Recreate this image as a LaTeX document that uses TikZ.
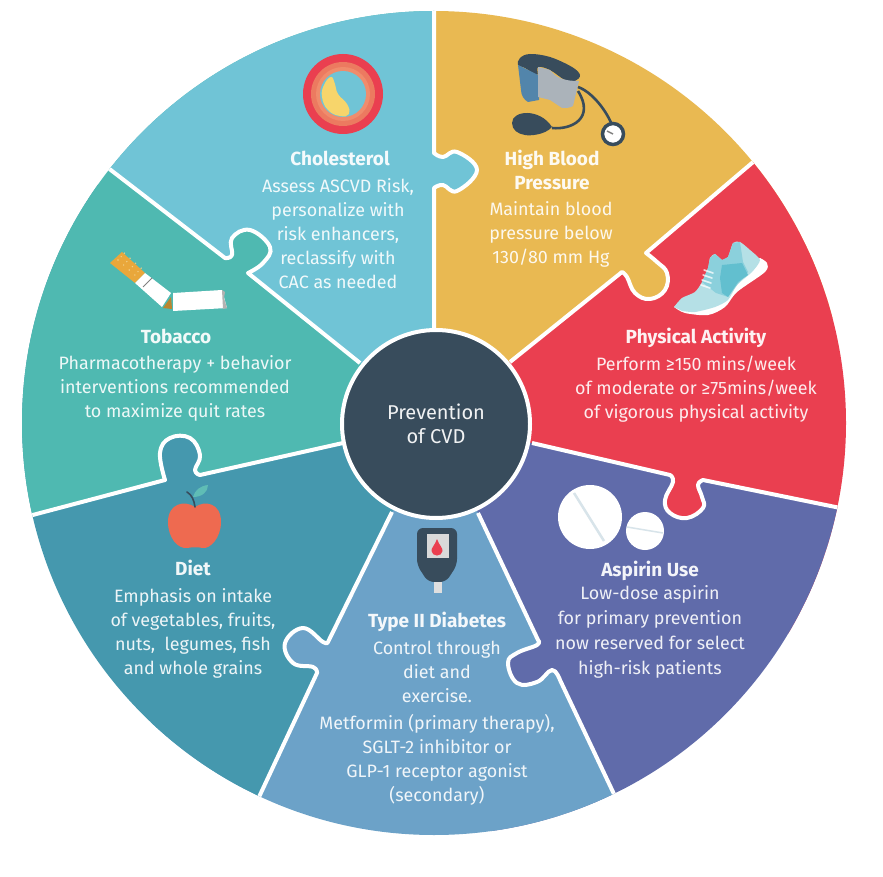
\documentclass[tikz,border=0pt]{standalone}
\usepackage{fontspec}
\setmainfont{Fira Sans}
\usetikzlibrary{calc}
\definecolor{colChol}{HTML}{70C4D6}
\definecolor{colBP}{HTML}{E9B952}
\definecolor{colPhys}{HTML}{EA3F50}
\definecolor{colAsp}{HTML}{606BAA}
\definecolor{colDiab}{HTML}{6CA2C8}
\definecolor{colDiet}{HTML}{4598AE}
\definecolor{colTob}{HTML}{4FB9B1}
\definecolor{colDark}{HTML}{384C5C}
\definecolor{colRingA}{HTML}{EC7A60}
\definecolor{colRingB}{HTML}{F08C6C}
\definecolor{colPlaque}{HTML}{F7D56B}
\definecolor{colCuff}{HTML}{5285AB}
\definecolor{colGrey}{HTML}{ABB3BA}
\definecolor{colApple}{HTML}{EE6A50}
\definecolor{colLeaf}{HTML}{5FBDB5}
\definecolor{colFilter}{HTML}{E9A73B}
\definecolor{colShoeA}{HTML}{B5E0E6}
\definecolor{colShoeB}{HTML}{8BD0DC}
\definecolor{colShoeC}{HTML}{62BFCF}
\definecolor{colGroove}{HTML}{D8E4EA}
\tikzset{
  head/.style={text=white,text opacity=.93,inner sep=0pt,align=center,font=\fontsize{19}{24}\selectfont\bfseries},
  body/.style={text=white,text opacity=.9,inner sep=0pt,align=center,font=\fontsize{17.9}{24}\selectfont},
  seamline/.style={draw=white,line width=4,line join=round}
}
\newcommand\seamA{(434,330) -- plot[smooth,tension=.7] coordinates {(434,188) (443,185) (457,191) (477,170) (457,152) (443,157) (434,153)} -- (434,-5)}
\newcommand\seamAback{(434,-5) -- plot[smooth,tension=.7] coordinates {(434,153) (443,157) (457,152) (477,170) (457,191) (443,185) (434,188)} -- (434,330)}
\newcommand\seamB{(510,362) -- plot[smooth,tension=.7] coordinates {(622,272) (627,277) (635,293) (650,299) (665,290) (667,273) (657,262) (646,253)} -- (772,146)}
\newcommand\seamC{(532,443) -- plot[smooth,tension=.7] coordinates {(670,475) (673,482) (665,500) (670,513) (687,518) (703,508) (702,497) (698,485) (703,480)} -- (860,512)}
\newcommand\seamD{(478,513) -- plot[smooth,tension=.7] coordinates {(538,640) (537,645) (517,653) (508,663) (517,683) (537,682) (552,670) (560,680)} -- (622,811)}
\newcommand\seamE{(392,512) -- plot[smooth,tension=.7] coordinates {(328,642) (323,642) (303,628) (285,643) (293,663) (313,667) (317,673)} -- (252,812)}
\newcommand\seamF{(343,443) -- plot[smooth,tension=.7] coordinates {(200,475) (195,470) (200,455) (190,438) (170,438) (160,453) (165,480)} -- (10,521)}
\newcommand\seamG{(360,363) -- plot[smooth,tension=.7] coordinates {(248,273) (263,263) (270,247) (250,230) (232,238) (232,255) (225,258)} -- (90,154)}
\begin{document}
\begin{tikzpicture}[x=1pt,y=-1pt]
\useasboundingbox (0,0) rectangle (883,877);
\fill[white] (0,0) rectangle (883,877);

\coordinate (O) at (436,424);

\begin{scope}
\clip (434,423) circle (412);
\fill[colBP] (O) -- \seamA -- (900,-20) -- (900,300) -- cycle;
\fill[colPhys] (O) -- \seamB -- (900,100) -- (900,700) -- cycle;
\fill[colAsp] (O) -- \seamC -- (900,900) -- (500,900) -- cycle;
\fill[colDiab] (O) -- \seamD -- (500,900) -- (-20,900) -- cycle;
\fill[colDiet] (O) -- \seamE -- (100,900) -- (-20,900) -- (-20,100) -- cycle;
\fill[colTob] (O) -- \seamF -- (-20,500) -- (-20,-20) -- (434,-20) -- cycle;
\fill[colChol] (O) -- \seamG -- (50,-20) -- \seamAback -- cycle;
\draw[seamline] \seamA;
\draw[seamline] \seamB;
\draw[seamline] \seamC;
\draw[seamline] \seamD;
\draw[seamline] \seamE;
\draw[seamline] \seamF;
\draw[seamline] \seamG;
\end{scope}

\node[circle,fill=colDark,draw=white,line width=4,minimum size=188,inner sep=0pt,text=white,text opacity=.93,align=center,font=\fontsize{20}{24}\selectfont] (centre) at (O) {Prevention\\of CVD};

% cholesterol
\fill[colPhys] (343,94) circle (40);
\fill[colRingA] (343,94) circle (32);
\fill[colRingB] (343,94) circle (27);
\fill[colChol] (343,94) circle (23);
\fill[colPlaque] plot[smooth cycle,tension=.8] coordinates {(331,77) (324,85) (322,97) (328,110) (340,116) (349,114) (347,104) (338,94) (335,84)};

\node[head] (chol title) at (340,158) {Cholesterol};
\node[body] (chol text) at (338,234) {Assess ASCVD Risk,\\personalize with\\risk enhancers,\\reclassify with\\CAC as needed};

% blood pressure
\fill[colDark] plot[smooth cycle,tension=.6] coordinates {(518,65) (520,58) (530,54) (550,57) (572,67) (580,75) (575,81) (565,80) (550,70) (538,67) (537,75) (525,68)};
\fill[colCuff] (518,65) -- (540,76) -- (539,100) -- (528,102) .. controls (524,100) and (521,95) .. (521,90) -- cycle;
\fill[colGrey] (538,67) -- (550,70) .. controls (555,76) and (560,81) .. (579,81) -- (573,106) .. controls (570,108) and (566,108) .. (562,108) -- (550,100) -- (538,97) -- cycle;
\fill[colDark] (512,123) .. controls (512,110) and (540,108) .. (552,127) .. controls (545,135) and (530,136) .. (525,135) .. controls (518,134) and (512,130) .. (512,123) -- cycle;
\draw[colDark,line width=2.6] (552,128) .. controls (572,130) and (595,118) .. (578,91);
\draw[colDark,line width=2.6] (578,87) .. controls (592,92) and (606,110) .. (612,125);
\draw[colDark,fill=white,line width=3.5] (613,134) circle (10.5);
\draw[gray,line width=1.5] (613,134) -- (607,131);

\node[head] (bp title) at (552,170) {High Blood\\Pressure};
\node[body] (bp text) at (551,234) {Maintain blood\\pressure below\\130/80 mm Hg};

% shoe
\fill[white] plot[smooth,tension=.5] coordinates {(674,307) (685,313) (708,315) (725,307) (737,292) (765,272) (767,263) (760,258)} -- cycle;
\fill[colShoeA] plot[smooth,tension=.4] coordinates {(674,307) (682,298) (695,292) (702,282) (708,268) (710,258) (715,254) (722,260) (728,257) (733,243) (740,242) (750,250) (760,260) (752,272) (737,285) (728,300) (715,307) (695,312) (682,311)} -- cycle;
\fill[colShoeB] (708,268) -- (710,258) -- (715,254) -- (722,260) -- (728,257) -- (733,243) -- (740,242) -- (743,262) -- (748,272) -- (737,285) -- (728,297) -- (716,293) -- (702,282) -- cycle;
\fill[colShoeC] (722,265) -- (742,263) -- (748,275) -- (738,282) -- (728,297) -- (722,293) -- (720,278) -- cycle;
\draw[white,line width=1.6,opacity=.75,line cap=round] (704,270) -- (713,273) (703,275) -- (712,278) (702,280) -- (711,283) (701,285) -- (710,288);

\node[head] (phys title) at (696,338) {Physical Activity};
\node[body] (phys text) at (696,389) {Perform ≥150 mins/week\\of moderate or ≥75mins/week\\of vigorous physical activity};

% pills
\fill[white] (590,517) circle (32);
\draw[colGroove,line width=2.5] (574,493) -- (604,541);
\fill[white] (645,531) circle (19);
\draw[colGroove,line width=1.5] (627,527) -- (663,533);

\node[head] (asp title) at (650,571) {Aspirin Use};
\node[body,font=\fontsize{17.9}{25}\selectfont] (asp text) at (650,632) {Low-dose aspirin\\for primary prevention\\now reserved for select\\high-risk patients};

% glucose meter
\fill[colDark,rounded corners=6] (417,528) -- (457,528) -- (457,565) -- (446,582) -- (428,582) -- (417,565) -- cycle;
\fill[gray!30!white] (427,534) rectangle (449,558);
\fill[colPhys] (437,539) .. controls (439,545) and (443,548) .. (442.5,551) .. controls (442,557) and (432,557) .. (431.5,551) .. controls (431,548) and (435,545) .. (437,539) -- cycle;
\fill[gray!25!white] (434,582) rectangle (442,593);

\node[head] (diab title) at (437,622) {Type II Diabetes};
\node[body] (diab text) at (437,672) {Control through\\diet and\\exercise.};
\node[body] (diab drugs) at (437,760) {Metformin (primary therapy),\\SGLT-2 inhibitor or\\GLP-1 receptor agonist\\(secondary)};

% apple
\fill[colLeaf] (193,497) .. controls (195,490) and (200,486) .. (208,485) .. controls (208,492) and (202,497) .. (193,497) -- cycle;
\fill[colApple] (195,507) .. controls (205,500) and (221,503) .. (221,522) .. controls (221,538) and (210,549) .. (203,548) .. controls (198,547) and (192,547) .. (187,548) .. controls (178,549) and (168,538) .. (168,522) .. controls (168,503) and (185,500) .. (195,507) -- cycle;
\draw[colDark,line width=1.6,line cap=round] (187,492) .. controls (192,495) and (194,500) .. (195,507);

\node[head] (diet title) at (193,568) {Diet};
\node[body] (diet text) at (193,633) {Emphasis on intake\\of vegetables, fruits,\\nuts,\ \ legumes, fish\\and whole grains};

% cigarette
\fill[colFilter] (110,263) -- (122,252) -- (145,273) -- (135,283) -- cycle;
\foreach \s in {0,...,3}
  \foreach \t in {0,1,2}
    \fill[colBP!70!white] ({118+\s*5.6+\t*3.2},{260+\s*5-\t*3.4}) circle (.8);
\fill[white] (135,283) -- (145,273) -- (171,293) -- (162,307) -- cycle;
\draw[gray,line width=1] (143,287) -- (152,278);
\fill[colFilter!80!black] (171,297) -- (172,309) -- (163,308) -- cycle;
\fill[white] (173,293) -- (222,290) -- (227,308) -- (173,311) -- cycle;
\fill[gray!60!white] (222,290) -- (225,292) -- (224,298) -- (227,308) -- (223,309) -- cycle;

\node[head] (tob title) at (176,336) {Tobacco};
\node[body] (tob text) at (175,388) {Pharmacotherapy + behavior\\interventions recommended\\to maximize quit rates};

\end{tikzpicture}
\end{document}
